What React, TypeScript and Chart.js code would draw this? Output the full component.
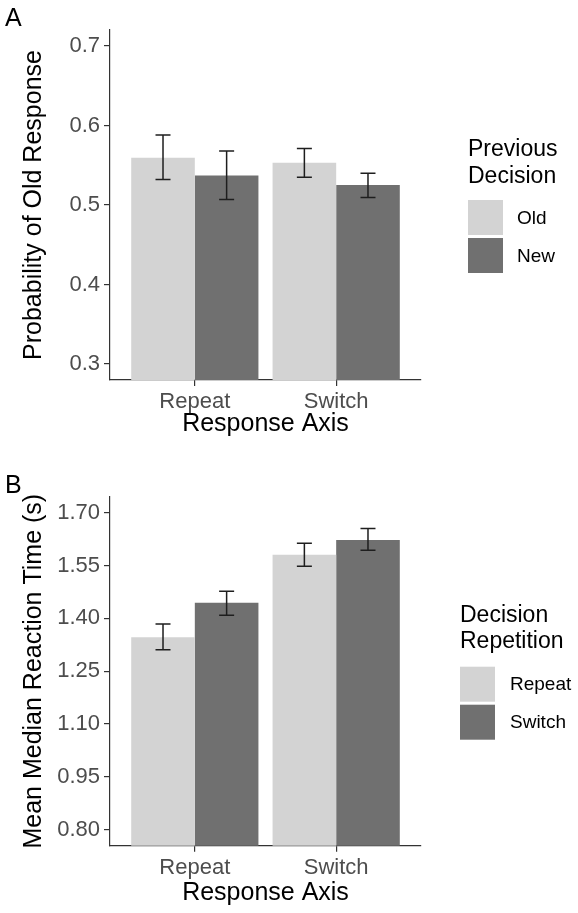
import React, { useEffect, useRef } from 'react';
import { Chart, registerables } from 'chart.js';

Chart.register(...registerables);

// ---------- shared ----------
const axisCategories = ['Repeat', 'Switch'];
const categoryPositions = [0, 1];

// ---------- Panel A: Probability of Old Response ----------
const prevDecisionLabels = ['Old', 'New'];
const probOldAfterOld = [0.5595, 0.553];
const probOldAfterNew = [0.537, 0.525];
const errAOldLow = [0.532, 0.535];
const errAOldHigh = [0.588, 0.571];
const errANewLow = [0.507, 0.5095];
const errANewHigh = [0.568, 0.54];
const ticksA = [0.3, 0.4, 0.5, 0.6, 0.7];

// ---------- Panel B: Mean Median Reaction Time ----------
const decisionRepLabels = ['Repeat', 'Switch'];
const rtRepeat = [1.346, 1.58];
const rtSwitch = [1.444, 1.622];
const errBRepeatLow = [1.311, 1.548];
const errBRepeatHigh = [1.384, 1.613];
const errBSwitchLow = [1.409, 1.593];
const errBSwitchHigh = [1.477, 1.655];
const ticksB = [0.8, 0.95, 1.1, 1.25, 1.4, 1.55, 1.7];

const LIGHT = '#d3d3d3';
const DARK = '#707070';
const AXIS = '#333333';
const TICK_TEXT = '#4d4d4d';
const FONT = "'Liberation Sans', Arial, sans-serif";

const errorBarPlugin = {
  id: 'errorBars',
  afterDatasetsDraw(chart: any) {
    const ctx = chart.ctx;
    const y = chart.scales.y;
    const cap = 7.5;
    chart.data.datasets.forEach((ds: any, di: number) => {
      const meta = chart.getDatasetMeta(di);
      meta.data.forEach((el: any, i: number) => {
        const x = el.x;
        const yl = y.getPixelForValue(ds.errLow[i]);
        const yh = y.getPixelForValue(ds.errHigh[i]);
        ctx.save();
        ctx.strokeStyle = '#1e1e1e';
        ctx.lineWidth = 1.5;
        ctx.beginPath();
        ctx.moveTo(x, yl);
        ctx.lineTo(x, yh);
        ctx.moveTo(x - cap, yh);
        ctx.lineTo(x + cap, yh);
        ctx.moveTo(x - cap, yl);
        ctx.lineTo(x + cap, yl);
        ctx.stroke();
        ctx.restore();
      });
    });
  },
};

const sideLegendPlugin = {
  id: 'sideLegend',
  afterDraw(chart: any, _args: any, opts: any) {
    const ctx = chart.ctx;
    ctx.save();
    ctx.fillStyle = '#000';
    ctx.font = `25px ${FONT}`;
    ctx.textAlign = 'left';
    ctx.textBaseline = 'alphabetic';
    ctx.fillText(opts.panel, opts.panelX, opts.panelY);
    ctx.font = `23px ${FONT}`;
    opts.title.forEach((line: string, i: number) => {
      ctx.fillText(line, opts.x, opts.titleY + i * opts.titleGap);
    });
    chart.data.datasets.forEach((ds: any, i: number) => {
      const top = opts.keyY + i * (opts.key + opts.keyGap);
      ctx.fillStyle = ds.backgroundColor;
      ctx.fillRect(opts.x, top, opts.key, opts.key);
      ctx.fillStyle = '#000';
      ctx.font = `19px ${FONT}`;
      ctx.textBaseline = 'middle';
      ctx.fillText(ds.label, opts.labelX, top + opts.key / 2 + 1);
      ctx.textBaseline = 'alphabetic';
    });
    ctx.restore();
  },
};

function makeConfig(p: any) {
  return {
    type: 'bar',
    data: {
      datasets: p.series.map((s: any) => ({
        label: s.label,
        data: categoryPositions.map((x, i) => ({ x, y: s.values[i] })),
        errLow: s.low,
        errHigh: s.high,
        backgroundColor: s.color,
        borderWidth: 0,
        categoryPercentage: 0.9,
        barPercentage: 1.0,
      })),
    },
    options: {
      responsive: false,
      animation: false,
      events: [],
      layout: { padding: { left: 0, top: p.padTop, right: 157, bottom: 0 } },
      plugins: {
        legend: { display: false },
        tooltip: { enabled: false },
        sideLegend: p.legend,
      },
      scales: {
        x: {
          type: 'linear',
          min: -0.6,
          max: 1.6,
          offset: false,
          z: 1,
          afterBuildTicks: (s: any) => {
            s.ticks = categoryPositions.map((v) => ({ value: v }));
          },
          afterFit: (s: any) => {
            s.height = p.xHeight;
          },
          grid: { offset: false, drawOnChartArea: false, drawTicks: true, tickLength: 6, color: AXIS, lineWidth: 1.2 },
          border: { display: true, color: AXIS, width: 1.2 },
          ticks: {
            autoSkip: false,
            maxRotation: 0,
            padding: 3,
            color: TICK_TEXT,
            font: { size: 22, family: FONT },
            callback: (_v: any, i: number) => axisCategories[i],
          },
          title: {
            display: true,
            text: 'Response Axis',
            color: '#000',
            font: { size: 25, family: FONT, lineHeight: 1.2 },
            padding: { top: 0, bottom: p.xTitlePad },
          },
        },
        y: {
          min: p.yMin,
          max: p.yMax,
          afterBuildTicks: (s: any) => {
            s.ticks = p.ticks.map((v: number) => ({ value: v }));
          },
          afterFit: (s: any) => {
            s.width = 110;
          },
          grid: { drawOnChartArea: false, drawTicks: true, tickLength: 6, color: AXIS, lineWidth: 1.2 },
          border: { display: true, color: AXIS, width: 1.2 },
          ticks: {
            padding: 4,
            color: TICK_TEXT,
            font: { size: 22, family: FONT },
            callback: (v: number) => v.toFixed(p.decimals),
          },
          title: {
            display: true,
            text: p.yTitle,
            color: '#000',
            font: { size: 25, family: FONT, lineHeight: 1.2 },
            padding: { top: 19, bottom: 0 },
          },
        },
      },
    },
    plugins: [errorBarPlugin, sideLegendPlugin],
  };
}

export default function App() {
  const refA = useRef<HTMLCanvasElement>(null);
  const refB = useRef<HTMLCanvasElement>(null);

  useEffect(() => {
    document.body.style.margin = '0';
    Chart.defaults.font.family = FONT;
    const cA = new Chart(
      refA.current as HTMLCanvasElement,
      makeConfig({
        padTop: 30,
        xHeight: 76,
        xTitlePad: 17,
        yMin: 0.28,
        yMax: 0.72,
        ticks: ticksA,
        decimals: 1,
        yTitle: 'Probability of Old Response',
        series: [
          { label: prevDecisionLabels[0], values: probOldAfterOld, low: errAOldLow, high: errAOldHigh, color: LIGHT },
          { label: prevDecisionLabels[1], values: probOldAfterNew, low: errANewLow, high: errANewHigh, color: DARK },
        ],
        legend: {
          panel: 'A', panelX: 5, panelY: 26,
          title: ['Previous', 'Decision'], x: 468, titleY: 156, titleGap: 27,
          keyY: 200, key: 35, keyGap: 3, labelX: 517,
        },
      }) as any
    );
    const cB = new Chart(
      refB.current as HTMLCanvasElement,
      makeConfig({
        padTop: 40.7,
        xHeight: 67.3,
        xTitlePad: 5,
        yMin: 0.755,
        yMax: 1.745,
        ticks: ticksB,
        decimals: 2,
        yTitle: 'Mean Median Reaction Time (s)',
        series: [
          { label: decisionRepLabels[0], values: rtRepeat, low: errBRepeatLow, high: errBRepeatHigh, color: LIGHT },
          { label: decisionRepLabels[1], values: rtSwitch, low: errBSwitchLow, high: errBSwitchHigh, color: DARK },
        ],
        legend: {
          panel: 'B', panelX: 5, panelY: 37,
          title: ['Decision', 'Repetition'], x: 460, titleY: 165.7, titleGap: 26.6,
          keyY: 210.7, key: 35, keyGap: 3, labelX: 510,
        },
      }) as any
    );
    return () => {
      cA.destroy();
      cB.destroy();
    };
  }, []);

  return (
    <div style={{ position: 'relative', width: 578, height: 913, background: '#fff' }}>
      <canvas ref={refA} width={578} height={456} style={{ position: 'absolute', left: 0, top: 0, display: 'block' }} />
      <canvas ref={refB} width={578} height={457} style={{ position: 'absolute', left: 0, top: 456, display: 'block' }} />
    </div>
  );
}
